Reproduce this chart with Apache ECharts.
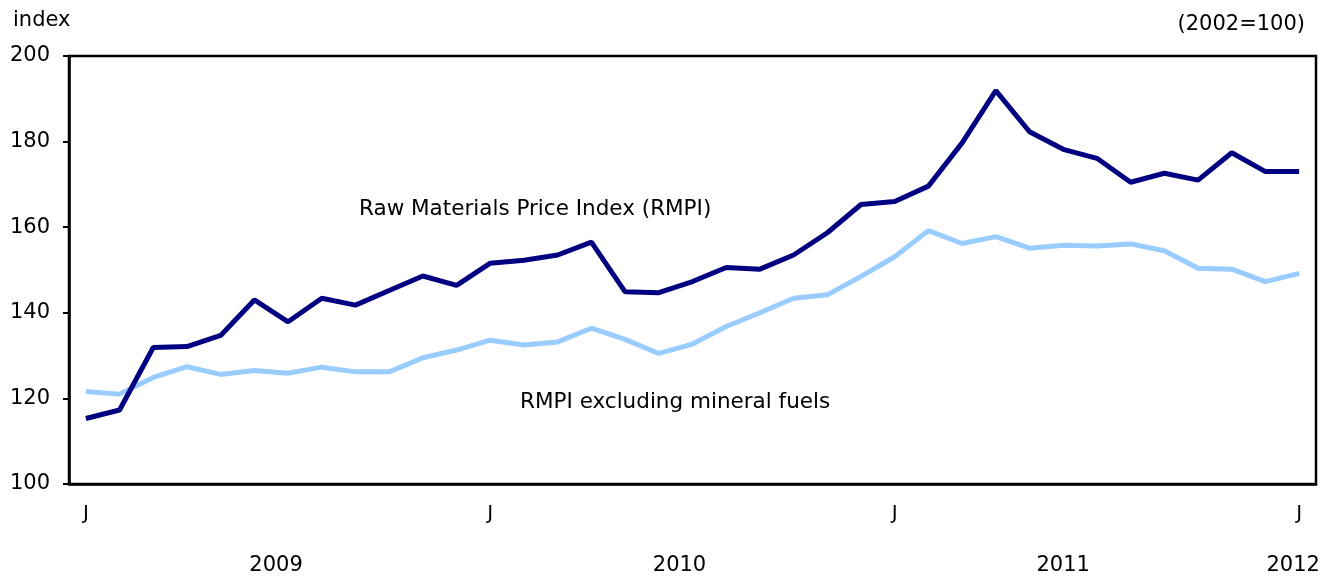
<!DOCTYPE html>
<html>
<head>
<meta charset="utf-8">
<script src="https://cdn.jsdelivr.net/npm/echarts@6/dist/echarts.min.js"></script>
<style>
  html, body { margin: 0; padding: 0; background: #fff; }
  #chart-container { width: 1338px; height: 580px; }
</style>
</head>
<body>
<div id="chart-container"></div>
<script>
// monthly, Jan 2009 .. Jan 2012
var months = [];
for (var y = 2009; y <= 2012; y++) {
  for (var m = 1; m <= 12; m++) {
    months.push(y + "-" + (m < 10 ? "0" + m : m));
    if (y === 2012) break;
  }
}

var rmpi = [
  115.3, 117.3, 131.9, 132.1, 134.7, 143.0, 137.9, 143.4, 141.8, 145.2, 148.6, 146.4,
  151.6, 152.3, 153.5, 156.5, 144.9, 144.7, 147.3, 150.6, 150.2, 153.5, 158.7, 165.3,
  166.0, 169.6, 179.7, 191.9, 182.3, 178.2, 176.1, 170.5, 172.6, 171.0, 177.4, 173.0,
  173.0
];

var rmpiExFuels = [
  121.6, 121.0, 124.9, 127.4, 125.6, 126.5, 125.9, 127.3, 126.2, 126.2, 129.5, 131.3,
  133.6, 132.5, 133.2, 136.4, 133.8, 130.5, 132.7, 136.8, 140.0, 143.4, 144.2, 148.5,
  153.1, 159.2, 156.2, 157.8, 155.1, 155.8, 155.6, 156.1, 154.5, 150.4, 150.2, 147.3,
  149.2
];

// year labels: month index where each year label sits, plus a small nudge
var yearLabels = { 6: ["2009", 24], 18: ["2010", 26], 29: ["2011", 0], 36: ["2012", 12] };

var seriesNames = ["Raw Materials Price Index (RMPI)", "RMPI excluding mineral fuels"];

var font = "DejaVu Sans";

var dom = document.getElementById("chart-container");
var myChart = echarts.init(dom, null, { renderer: "canvas" });

var yearRich = {};
Object.keys(yearLabels).forEach(function (k) {
  yearRich["y" + k] = { fontSize: 21, color: "#000", fontFamily: font, padding: [0, yearLabels[k][1], 0, 0] };
});

var option = {
  animation: false,
  textStyle: { fontFamily: font },
  title: [
    { text: "index", left: 8, top: 5, textStyle: { fontFamily: font, fontSize: 21, fontWeight: "normal", color: "#000" } },
    { text: "(2002=100)", right: 28, top: 9, textStyle: { fontFamily: font, fontSize: 21, fontWeight: "normal", color: "#000" } }
  ],
  grid: {
    left: 69,
    right: 22,
    top: 56,
    bottom: 96,
    show: true,
    borderColor: "#000",
    borderWidth: 2.5
  },
  xAxis: [
    {
      type: "category",
      data: months,
      boundaryGap: true,
      axisLine: { lineStyle: { color: "#000", width: 2.5 } },
      axisTick: { inside: true, length: 7, lineStyle: { color: "#000", width: 2 } },
      axisLabel: {
        interval: function (i) { return i % 12 === 0; },
        formatter: function () { return "J"; },
        color: "#000",
        fontSize: 20,
        margin: 20
      }
    },
    {
      type: "category",
      data: months,
      position: "bottom",
      boundaryGap: true,
      axisLine: { show: false },
      axisTick: { show: false },
      axisLabel: {
        interval: function (i) { return yearLabels[i] !== undefined; },
        formatter: function (v, i) {
          var yl = yearLabels[i];
          return yl ? "{y" + i + "|" + yl[0] + "}" : "";
        },
        rich: yearRich,
        margin: 71
      }
    }
  ],
  yAxis: {
    type: "value",
    min: 100,
    max: 200,
    interval: 20,
    splitLine: { show: false },
    axisLine: { show: true, lineStyle: { color: "#000", width: 2.5 } },
    axisTick: { show: true, length: 6, lineStyle: { color: "#000", width: 2 } },
    axisLabel: { color: "#000", fontSize: 21, margin: 19 }
  },
  graphic: [
    {
      type: "text",
      left: 359,
      top: 198,
      style: { text: seriesNames[0], font: "21.5px " + font, fill: "#000" }
    },
    {
      type: "text",
      left: 520,
      top: 391,
      style: { text: seriesNames[1], font: "21.5px " + font, fill: "#000" }
    }
  ],
  series: [
    {
      name: seriesNames[1],
      type: "line",
      data: rmpiExFuels,
      symbol: "none",
      lineStyle: { color: "#99ccff", width: 5 },
      z: 2
    },
    {
      name: seriesNames[0],
      type: "line",
      data: rmpi,
      symbol: "none",
      lineStyle: { color: "#000080", width: 5 },
      z: 3
    }
  ]
};

myChart.setOption(option);
window.addEventListener("resize", myChart.resize);
</script>
</body>
</html>
